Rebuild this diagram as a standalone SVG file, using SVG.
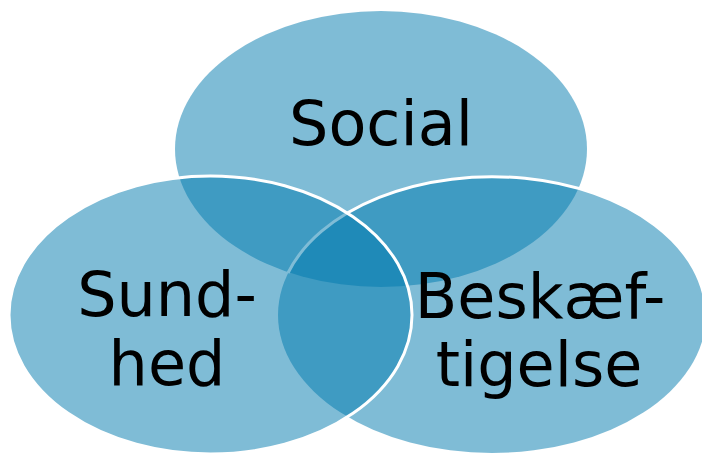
<svg xmlns="http://www.w3.org/2000/svg" width="702" height="453" viewBox="0 0 702 453">
<style>
.blob{fill:rgb(0,121,173);fill-opacity:0.5;}
.edge{fill:none;stroke:#ffffff;stroke-width:3;}
.lbl{font-family:"DejaVu Sans",Verdana,sans-serif;font-size:62px;fill:#000000;text-anchor:middle;}
</style>
<rect width="702" height="453" fill="#ffffff"/>
<g id="social">
<ellipse class="blob" cx="381" cy="149" rx="206" ry="138"/>
</g>
<g id="beskaeftigelse">
<ellipse class="blob" cx="492" cy="315" rx="214" ry="138"/>
<path class="edge" d="M288,273 A214,138 0 0 1 706,315"/>
</g>
<g id="sundhed">
<ellipse class="blob edge-l" cx="210.5" cy="315" rx="201.5" ry="139" style="stroke:#ffffff;stroke-width:3"/>
</g>
<g id="labels">
<text class="lbl" x="381" y="145">Social</text>
<text class="lbl" x="167" y="316">Sund-</text>
<text class="lbl" x="167" y="385">hed</text>
<text class="lbl" x="540" y="318">Beskæf-</text>
<text class="lbl" x="539" y="386">tigelse</text>
</g>
</svg>
